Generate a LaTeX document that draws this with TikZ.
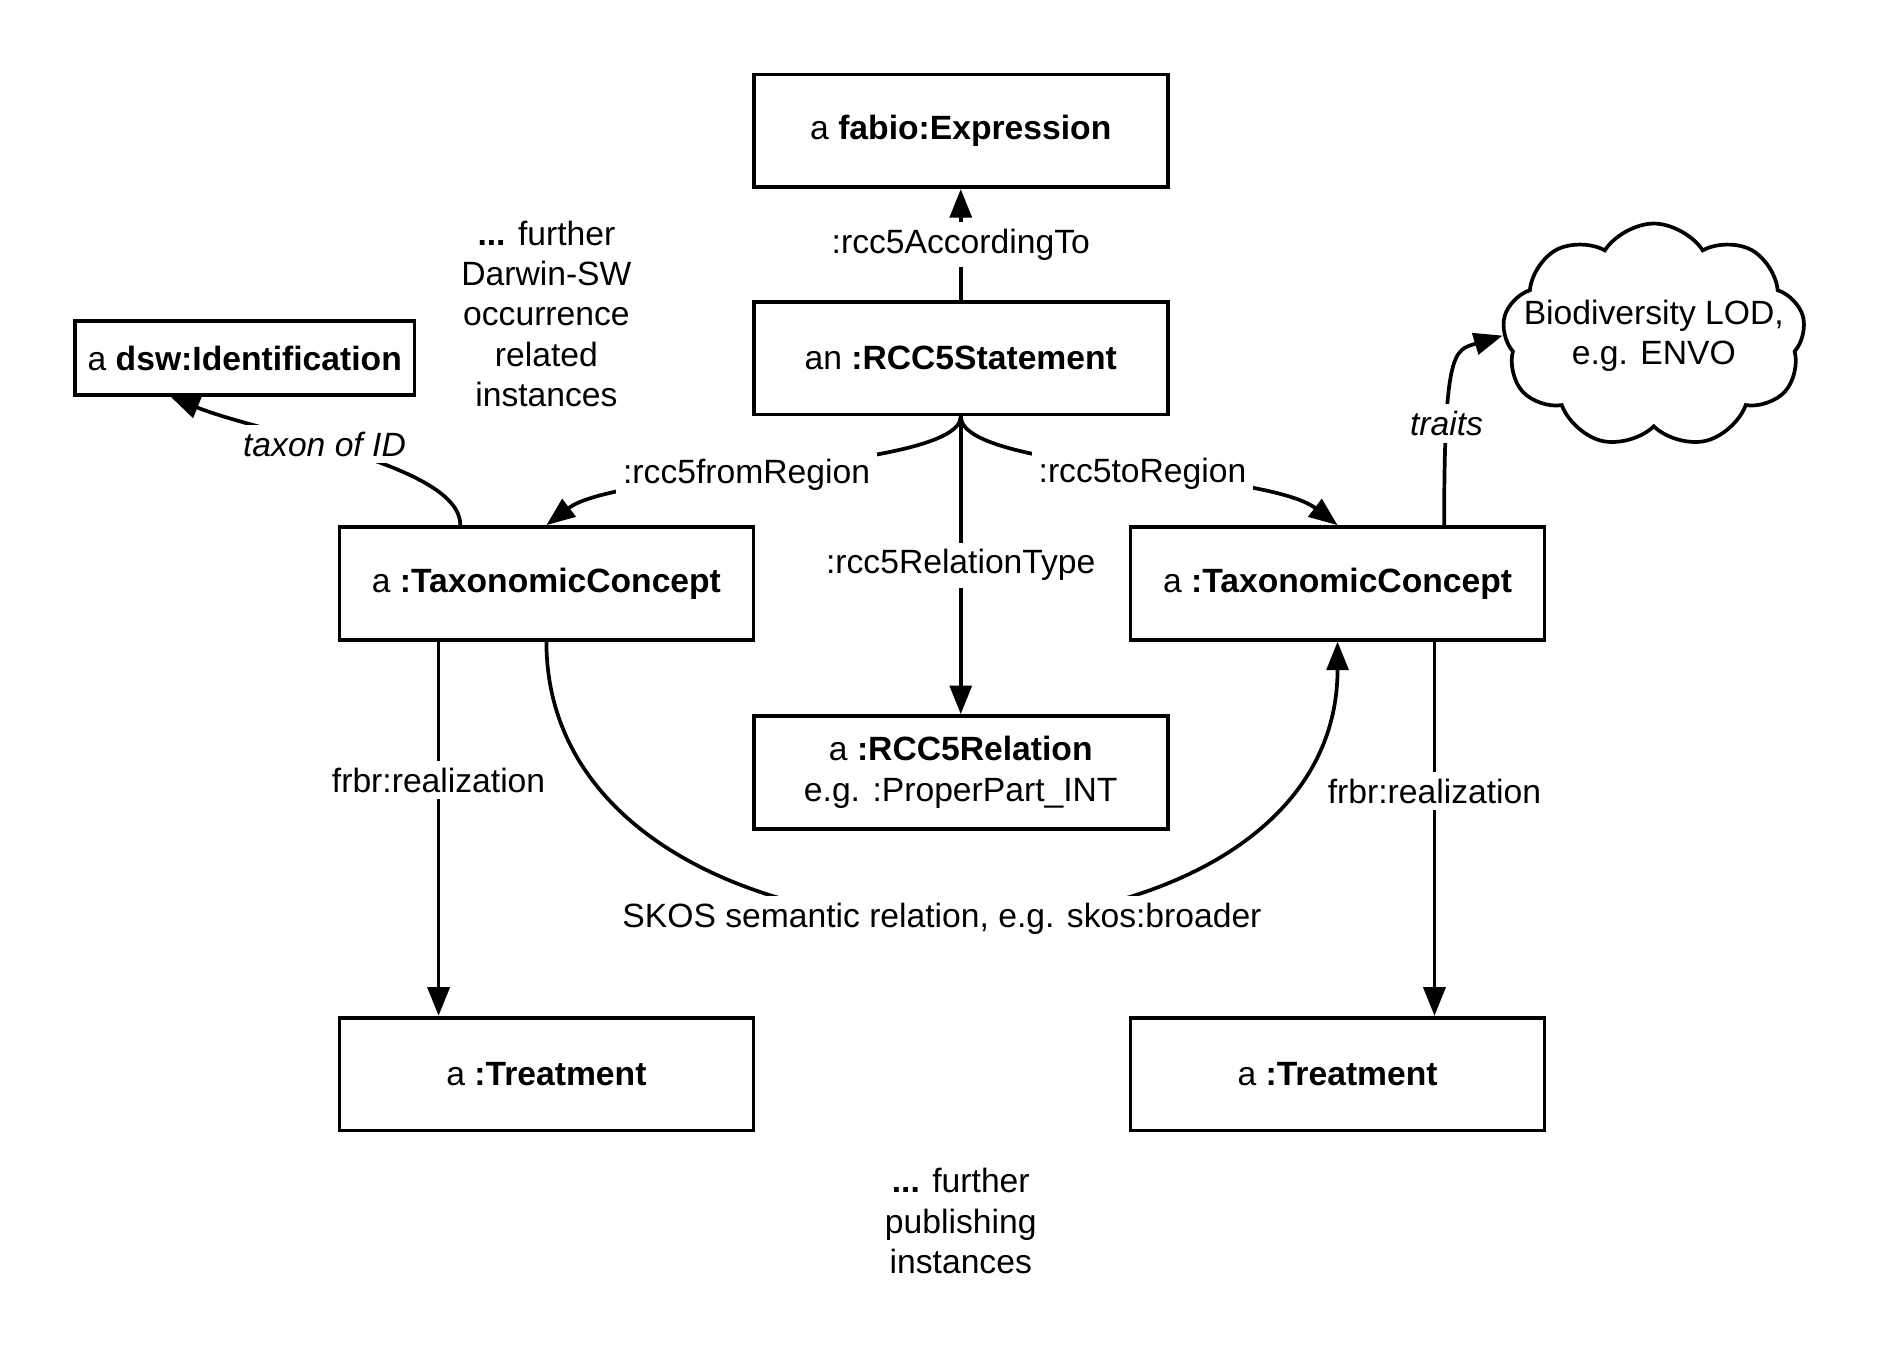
\documentclass[tikz,border=0pt]{standalone}
\usepackage{fontspec}
\setmainfont{Liberation Sans}
\usetikzlibrary{arrows.meta,shapes.symbols,calc}

\begin{document}
\begin{tikzpicture}[x=0.36pt, y=0.36pt, font=\fontsize{10}{12}\selectfont,
	box/.style={draw, line width=1.1pt, minimum width=123pt, minimum height=33.5pt, align=center},
	link/.style={line width=1.1pt, -{Triangle[length=8.5pt,width=6.5pt]}},
	lbl/.style={fill=white, inner sep=2pt},
	note/.style={align=center}]
	\useasboundingbox (0,0) rectangle (1560,-1125);
	%boxes
	\node[box] (expr) at (793,-108) {a \textbf{fabio:Expression}};
	\node[box] (stmt) at (793,-295.5) {an \textbf{:RCC5Statement}};
	\node[box, minimum width=100.8pt, minimum height=22pt] (ident) at (202,-295.5) {a \textbf{dsw:Identification}};
	\node[box] (tcL) at (451,-481.5) {a \textbf{:TaxonomicConcept}};
	\node[box] (tcR) at (1104,-481.5) {a \textbf{:TaxonomicConcept}};
	\node[box] (rel) at (793,-637.5) {a \textbf{:RCC5Relation}\\e.g. :ProperPart\_INT};
	\node[box] (trL) at (451,-886.5) {a \textbf{:Treatment}};
	\node[box] (trR) at (1104,-886.5) {a \textbf{:Treatment}};
	\node[draw, cloud, cloud puffs=9, cloud puff arc=115, line width=1.1pt, minimum width=90pt, minimum height=66.6pt] (lod) at (1365,-277) {};
	\node[note] (lodtxt) at (lod.center) {Biodiversity LOD,\\e.g. ENVO};
	%notes
	\node[note] (dwc) at (451,-259) {\textbf{...} further\\Darwin-SW\\occurrence\\related\\instances};
	\node[note] (pub) at (793,-1008) {\textbf{...} further\\publishing\\instances};
	%edges
	\draw[link] (stmt.north) -- node[lbl] {:rcc5AccordingTo} (expr.south);
	\draw[link] (stmt.south) .. controls +(0,-45) and +(60,46) .. (tcL.north)
		node[lbl, pos=0.56] {:rcc5fromRegion};
	\draw[link] (stmt.south) .. controls +(0,-45) and +(-60,46) .. (tcR.north)
		node[lbl, pos=0.54] {:rcc5toRegion};
	\draw[link] (stmt.south) -- node[lbl] {:rcc5RelationType} (rel.north);
	\draw[link] ($(tcL.north)+(-71,0)$) .. controls +(0,50) and +(77,-31) .. ($(ident.south)+(-61,0)$)
		node[lbl, pos=0.57, font=\itshape] {taxon of ID};
	\draw[link] ($(tcR.north)+(88,0)$) .. controls +(0,145) and +(-40,-12) .. (lod.west)
		node[lbl, pos=0.25, font=\itshape] {traits};
	\draw[link] ($(tcL.south)+(-89,0)$) -- node[lbl, pos=0.37] {frbr:realization} ($(trL.north)+(-89,0)$);
	\draw[link] ($(tcR.south)+(80,0)$) -- node[lbl, pos=0.4] {frbr:realization} ($(trR.north)+(80,0)$);
	\draw[link] (tcL.south) .. controls +(0,-305) and +(0,-305) .. (tcR.south)
		node[lbl, pos=0.5] {SKOS semantic relation, e.g. skos:broader};
\end{tikzpicture}
\end{document}
